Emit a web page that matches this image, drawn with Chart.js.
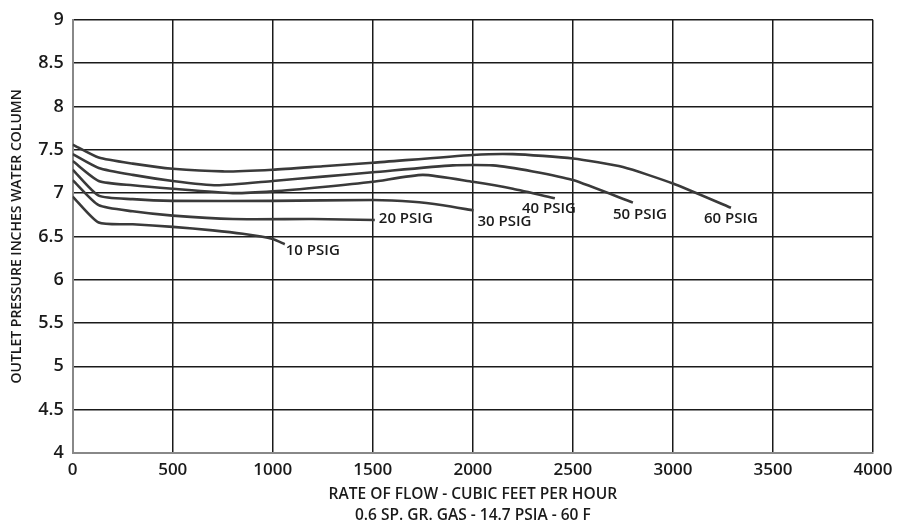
<!DOCTYPE html>
<html>
<head>
<meta charset="utf-8">
<script src="https://cdn.jsdelivr.net/npm/chart.js@4.4.1/dist/chart.umd.min.js"></script>
<style>
html,body{margin:0;padding:0;background:#fff;}
#wrap{width:904px;height:529px;position:relative;}
</style>
</head>
<body>
<div id="wrap"><canvas id="c" width="904" height="529"></canvas></div>
<script>
// ---- data (flow in CFH, outlet pressure in inches W.C.) ----
const seriesNames = ['10 PSIG','20 PSIG','30 PSIG','40 PSIG','50 PSIG','60 PSIG'];
const flow10 = [0, 130, 300, 500, 700, 850, 1000, 1060];
const pres10 = [6.96, 6.66, 6.64, 6.61, 6.57, 6.53, 6.47, 6.41];
const flow20 = [0, 130, 300, 500, 800, 1200, 1510];
const pres20 = [7.15, 6.86, 6.79, 6.74, 6.70, 6.70, 6.69];
const flow30 = [0, 130, 300, 500, 1000, 1500, 1700, 1850, 2003];
const pres30 = [7.27, 6.97, 6.93, 6.91, 6.91, 6.92, 6.90, 6.86, 6.80];
const flow40 = [0, 130, 300, 500, 800, 1000, 1250, 1500, 1750, 2000, 2200, 2410];
const pres40 = [7.37, 7.14, 7.09, 7.05, 7.00, 7.02, 7.07, 7.13, 7.21, 7.13, 7.05, 6.94];
const flow50 = [0, 130, 300, 500, 720, 1000, 1250, 1500, 1900, 2100, 2300, 2500, 2800];
const pres50 = [7.45, 7.29, 7.21, 7.14, 7.09, 7.14, 7.19, 7.24, 7.32, 7.32, 7.25, 7.15, 6.89];
const flow60 = [0, 130, 300, 500, 750, 1000, 1250, 1500, 2000, 2200, 2500, 2750, 3000, 3290];
const pres60 = [7.56, 7.41, 7.34, 7.28, 7.25, 7.27, 7.31, 7.35, 7.44, 7.45, 7.40, 7.30, 7.11, 6.83];
const xTicks = [0, 500, 1000, 1500, 2000, 2500, 3000, 3500, 4000];
const yTicks = [4, 4.5, 5, 5.5, 6, 6.5, 7, 7.5, 8, 8.5, 9];
const xTitle = ['RATE OF FLOW - CUBIC FEET PER HOUR', '0.6 SP. GR. GAS - 14.7 PSIA - 60 F'];
const yTitle = 'OUTLET PRESSURE INCHES WATER COLUMN';

// ---- label styling (pixel offsets from curve end) ----
const labelStyle = [
  {dx: 1, dy: 7, align: 'left'},
  {dx: 4, dy: -1, align: 'left'},
  {dx: 4, dy: 11, align: 'left'},
  {dx: -6, dy: 10, align: 'center'},
  {dx: 7, dy: 12, align: 'center'},
  {dx: 0, dy: 11, align: 'center'}
];

const flows = [flow10, flow20, flow30, flow40, flow50, flow60];
const press = [pres10, pres20, pres30, pres40, pres50, pres60];
const datasets = seriesNames.map((n, i) => ({
  label: n,
  data: flows[i].map((f, k) => ({x: f, y: press[i][k]})),
  borderColor: '#3a3a3a',
  borderWidth: 2.6,
  pointRadius: 0,
  fill: false,
  tension: 0.2
}));

const endLabels = {
  id: 'endLabels',
  afterDatasetsDraw(chart) {
    const ctx = chart.ctx;
    ctx.save();
    ctx.font = '600 15px "Open Sans"';
    ctx.fillStyle = '#1a1a1a';
    ctx.textBaseline = 'middle';
    chart.data.datasets.forEach((ds, i) => {
      const meta = chart.getDatasetMeta(i);
      const p = meta.data[meta.data.length - 1];
      const s = labelStyle[i];
      ctx.textAlign = s.align;
      ctx.fillText(ds.label, p.x + s.dx, p.y + s.dy);
    });
    ctx.restore();
  }
};

new Chart(document.getElementById('c'), {
  type: 'line',
  data: {datasets},
  options: {
    responsive: false,
    animation: false,
    devicePixelRatio: 1,
    layout: {padding: {top: 13, right: 31, left: 0, bottom: 0}},
    plugins: {legend: {display: false}, tooltip: {enabled: false}},
    scales: {
      x: {
        type: 'linear', min: 0, max: 4000,
        afterFit(a) { a.height = 76; },
        afterBuildTicks(a) { a.ticks = xTicks.map(v => ({value: v})); },
        ticks: {
          color: '#1a1a1a', padding: 7,
          font: {family: '"Open Sans"', size: 17, weight: '600'},
          callback: v => String(v)
        },
        grid: {color: '#1a1a1a', lineWidth: 1.5, drawTicks: false},
        border: {color: '#888', width: 2},
        title: {
          display: true, text: xTitle, color: '#1a1a1a',
          font: {family: '"Open Sans"', size: 15.5, weight: '600', lineHeight: '21px'},
          padding: {top: 0, bottom: 2.5}
        }
      },
      y: {
        type: 'linear', min: 4, max: 9,
        afterFit(a) { a.width = 72.7; },
        afterBuildTicks(a) { a.ticks = yTicks.map(v => ({value: v})); },
        ticks: {
          color: '#1a1a1a', padding: 9,
          font: {family: '"Open Sans"', size: 18, weight: '600'},
          callback: v => String(v)
        },
        grid: {color: '#1a1a1a', lineWidth: 1.5, drawTicks: false},
        border: {color: '#888', width: 2},
        title: {
          display: true, text: yTitle, color: '#1a1a1a',
          font: {family: '"Open Sans"', size: 14, weight: '600', lineHeight: '16px'},
          padding: {top: 9, bottom: 0}
        }
      }
    }
  },
  plugins: [endLabels]
});
</script>
</body>
</html>
